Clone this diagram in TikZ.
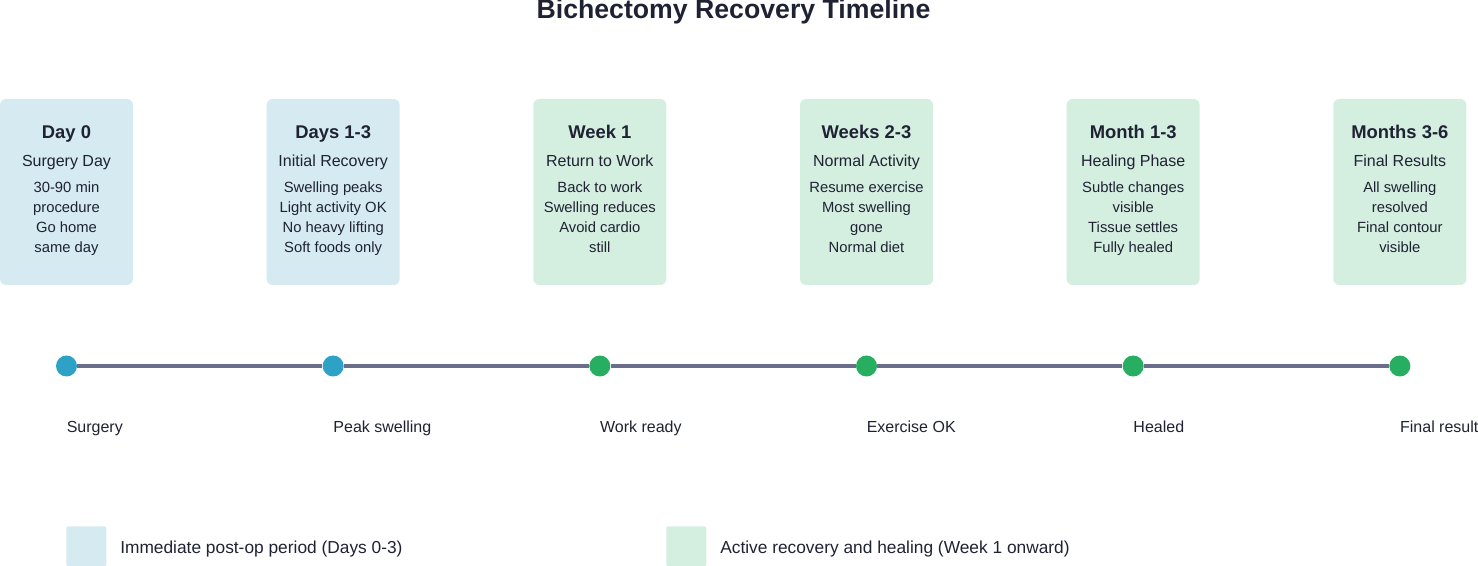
\documentclass[tikz,border=0pt]{standalone}
\usepackage{fontspec}
\setmainfont{Liberation Sans}
\definecolor{inkdark}{HTML}{1F2233}
\definecolor{postopfill}{HTML}{D5EAF1}
\definecolor{activefill}{HTML}{D4EEE0}
\definecolor{postopdot}{HTML}{2EA1C7}
\definecolor{activedot}{HTML}{27AE60}
\definecolor{axisline}{HTML}{6B6E8A}

\begin{document}
\begin{tikzpicture}[x=0.75pt,y=-0.75pt]
		\tikzset{phase/.style={rounded corners=4.5pt,minimum width=99.75pt,minimum height=139.5pt,inner sep=0pt},
			phasetitle/.style={anchor=base,inner sep=0pt,text=inkdark,font=\bfseries\fontsize{13.8}{16}\selectfont},
			phasesub/.style={anchor=base,inner sep=0pt,text=inkdark,font=\fontsize{12}{14}\selectfont},
			phaseline/.style={anchor=base,inner sep=0pt,text=inkdark,font=\fontsize{11.1}{13}\selectfont},
			milestone/.style={circle,inner sep=0pt,minimum size=15.75pt},
			milelabel/.style={anchor=base west,inner sep=0pt,text=inkdark,font=\fontsize{12}{14}\selectfont},
			keylabel/.style={anchor=base west,inner sep=0pt,text=inkdark,font=\fontsize{13}{15}\selectfont},
			keybox/.style={anchor=north west,inner sep=0pt,minimum size=30pt,rounded corners=1.5pt}}
		\useasboundingbox (0,0) rectangle (1478,566);
		\node (title) at (733.5,19) [anchor=base,inner sep=0pt,text=inkdark,font=\bfseries\fontsize{20}{24}\selectfont] {Bichectomy Recovery Timeline};
		
		\foreach \i/\boxcol/\dotcol/\ttl/\subt/\lines/\lab in {
			1/postopfill/postopdot/Day 0/Surgery Day/{30-90 min,procedure,Go home,same day}/Surgery,
			2/postopfill/postopdot/Days 1-3/Initial Recovery/{Swelling peaks,Light activity OK,No heavy lifting,Soft foods only}/Peak swelling,
			3/activefill/activedot/Week 1/Return to Work/{Back to work,Swelling reduces,Avoid cardio,still}/Work ready,
			4/activefill/activedot/Weeks 2-3/Normal Activity/{Resume exercise,Most swelling,gone,Normal diet}/Exercise OK,
			5/activefill/activedot/Month 1-3/Healing Phase/{Subtle changes,visible,Tissue settles,Fully healed}/Healed,
			6/activefill/activedot/Months 3-6/Final Results/{All swelling,resolved,Final contour,visible}/Final result}
		{
			\pgfmathsetmacro{\cx}{66.5+266.67*(\i-1)}
			\node (b\i) at (\cx,192) [phase,fill=\boxcol] {};
			\node (t\i) at (\cx,139) [phasetitle] {\ttl};
			\node (s\i) at (\cx,167) [phasesub] {\subt};
			\foreach \ln [count=\k] in \lines {
				\node (l\i-\k) at (\cx,{173+20*\k}) [phaseline] {\ln};
			}
			\node (d\i) at (\cx,366) [milestone,fill=\dotcol] {};
			\node (m\i) at (\cx,433) [milelabel] {\lab};
		}
		
		\path[draw=axisline,line width=3pt]
		(d1) -- (d2)
		(d2) -- (d3)
		(d3) -- (d4)
		(d4) -- (d5)
		(d5) -- (d6);
		
		\node (k1) at (66,526) [keybox,fill=postopfill] {};
		\node (k1t) at (120,553) [keylabel] {Immediate post-op period (Days 0-3)};
		\node (k2) at (666,526) [keybox,fill=activefill] {};
		\node (k2t) at (720,553) [keylabel] {Active recovery and healing (Week 1 onward)};
	\end{tikzpicture}
\end{document}
